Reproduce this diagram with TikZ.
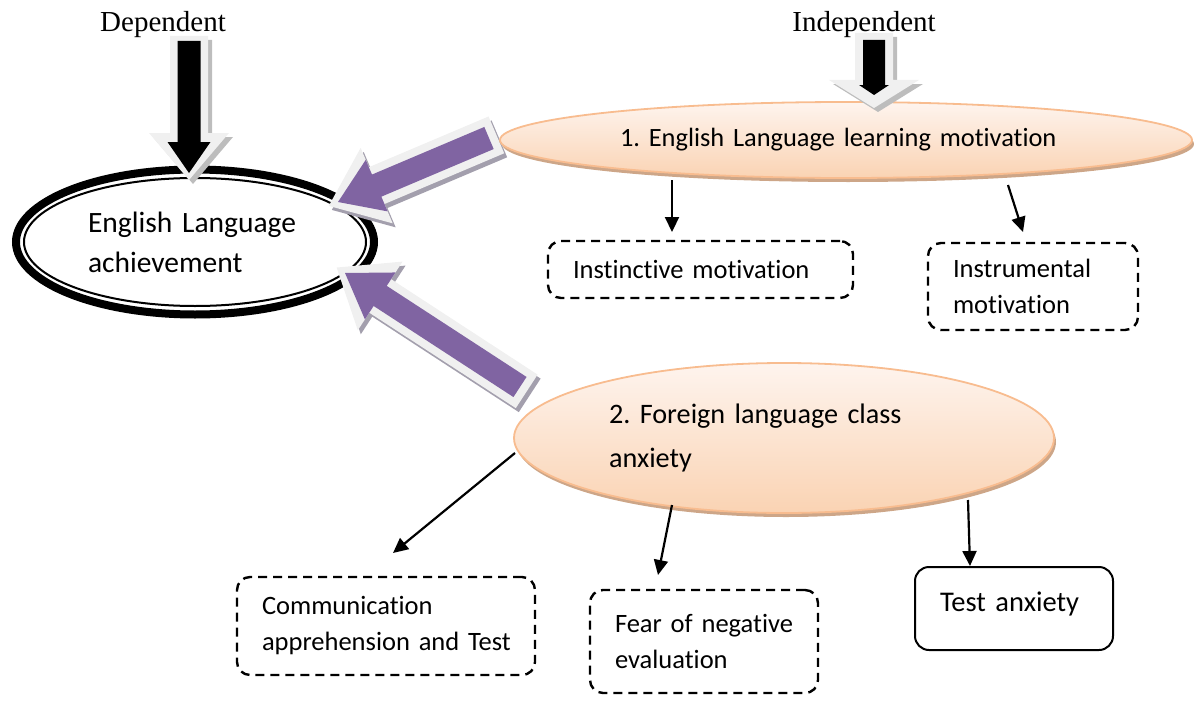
\documentclass[tikz,border=0pt]{standalone}
\usepackage{fontspec}
\setmainfont{Carlito}[Ligatures=NoCommon]
\newfontfamily\tnr{Liberation Serif}
\usetikzlibrary{calc,shapes.geometric,arrows.meta,shadows}
\frenchspacing
\definecolor{purp}{HTML}{8064A2}
\definecolor{purpshadow}{HTML}{A39FAD}
\definecolor{lightb}{HTML}{F0F0F0}
\definecolor{blkshadow}{HTML}{BDBDBD}
\definecolor{orbord}{HTML}{F8BC8F}
\definecolor{ortop}{HTML}{FEF4EE}
\definecolor{orbot}{HTML}{FAD3B3}
\definecolor{orshadow}{HTML}{CDA688}
\newcommand\achfont{\fontsize{29.5pt}{40pt}\selectfont}
\newcommand\eonefont{\fontsize{26.4pt}{32pt}\selectfont}
\newcommand\etwofont{\fontsize{28.2pt}{44pt}\selectfont}
\newcommand\bxfont{\fontsize{26.5pt}{36pt}\selectfont}
\newcommand\tafont{\fontsize{28.5pt}{34pt}\selectfont}
\newcommand\lblfont{\tnr\fontsize{29pt}{34pt}\selectfont}
% #1 tip, #2 tail centre, #3 half shaft, #4 half head, #5 head length, #6 options
\newcommand\blockarrow[6]{%
  \path[#6] (#1) -- ($(#1)!#5!(#2)!#4!90:(#2)$) -- ($(#1)!#5!(#2)!#3!90:(#2)$)
    -- ($(#2)!#3!-90:(#1)$) -- ($(#2)!#3!90:(#1)$)
    -- ($(#1)!#5!(#2)!#3!-90:(#2)$) -- ($(#1)!#5!(#2)!#4!-90:(#2)$) -- cycle;}
\begin{document}
\begin{tikzpicture}[x=1pt,y=-1pt,
  lbl/.style={font=\lblfont, anchor=base, inner sep=0pt},
  oval/.style={ellipse, draw=orbord, line width=1.8pt, top color=ortop, bottom color=orbot,
    inner sep=0pt, align=left,
    general shadow={fill=orshadow, shadow xshift=2pt, shadow yshift=-4pt}},
  dbox/.style={draw, line width=2.4pt, dash pattern=on 9pt off 6pt, rounded corners=13pt,
    inner xsep=25pt, inner ysep=0pt, align=left, font=\bxfont},
  sbox/.style={draw, line width=2pt, rounded corners=14pt,
    inner xsep=25pt, inner ysep=0pt, align=left, font=\tafont},
  conn/.style={line width=2.2pt, -{Triangle[length=15pt,width=14pt]}}]
\useasboundingbox (0,0) rectangle (1194,701);

% header labels
\node[lbl] (dep) at (163,32) {Dependent};
\node[lbl] (ind) at (864,32) {Independent};

% dependent variable ellipse
\node[ellipse, draw, line width=8pt, minimum width=358pt, minimum height=145pt,
  inner sep=0pt, text width=214pt, align=left, font=\achfont] (ach) at (195,242)
  {English Language\\achievement};
\draw[line width=2pt] (ach.center) ellipse [x radius=171, y radius=64];

% purple block arrows
\coordinate (p1t) at (338,202); \coordinate (p1e) at (489,138);
\coordinate (p1to) at ($(p1t)!-10pt!(p1e)$); \coordinate (p1eo) at ($(p1e)!-8pt!(p1t)$);
\begin{scope}[transform canvas={shift={(3pt,-4pt)}}]
  \blockarrow{p1to}{p1eo}{20pt}{41pt}{52pt}{fill=purpshadow}
\end{scope}
\blockarrow{p1to}{p1eo}{20pt}{41pt}{52pt}{fill=lightb}
\blockarrow{p1t}{p1e}{12pt}{28pt}{42pt}{fill=purp}

\coordinate (p2t) at (345,273); \coordinate (p2e) at (520,387);
\coordinate (p2to) at ($(p2t)!-10pt!(p2e)$); \coordinate (p2eo) at ($(p2e)!-8pt!(p2t)$);
\begin{scope}[transform canvas={shift={(3pt,-4pt)}}]
  \blockarrow{p2to}{p2eo}{20pt}{41pt}{52pt}{fill=purpshadow}
\end{scope}
\blockarrow{p2to}{p2eo}{20pt}{41pt}{52pt}{fill=lightb}
\blockarrow{p2t}{p2e}{12pt}{28pt}{42pt}{fill=purp}

% independent variable ellipses
\node[oval, minimum width=692pt, minimum height=76pt, text width=452pt, font=\eonefont]
  (e1) at (846,140) {1. English Language learning motivation};
\node[oval, minimum width=540pt, minimum height=150pt, text width=350pt, font=\etwofont]
  (e2) at (784,438) {2. Foreign language class\\anxiety};

% black block arrows
\coordinate (dt) at (189,173); \coordinate (de) at (189,41);
\coordinate (dto) at ($(dt)!-7pt!(de)$); \coordinate (deo) at ($(de)!-5pt!(dt)$);
\begin{scope}[transform canvas={shift={(4pt,-4pt)}}]
  \blockarrow{dto}{deo}{19pt}{40pt}{47pt}{fill=blkshadow}
\end{scope}
\blockarrow{dto}{deo}{19pt}{40pt}{47pt}{fill=lightb}
\blockarrow{dt}{de}{11.5pt}{21.5pt}{31pt}{fill=black}

\coordinate (it) at (874,95); \coordinate (ie) at (874,40);
\coordinate (ito) at ($(it)!-13pt!(ie)$); \coordinate (ieo) at ($(ie)!-7pt!(it)$);
\begin{scope}[transform canvas={shift={(4pt,-4pt)}}]
  \blockarrow{ito}{ieo}{19pt}{45pt}{28pt}{fill=blkshadow}
\end{scope}
\blockarrow{ito}{ieo}{19pt}{45pt}{28pt}{fill=lightb}
\blockarrow{it}{ie}{11pt}{15pt}{10pt}{fill=black}

% sub-factor boxes
\node[dbox, minimum width=305pt, minimum height=57pt, text width=255pt]
  (b1) at (700.5,269.5) {\mbox{Instinctive motivation}};
\node[dbox, minimum width=210pt, minimum height=87pt, text width=160pt]
  (b2) at (1033,286.5) {\mbox{Instrumental}\\\mbox{motivation}};
\node[dbox, minimum width=298pt, minimum height=98pt, text width=248pt]
  (b3) at (386,626) {\mbox{Communication}\\\mbox{apprehension and Test}};
\node[dbox, minimum width=228pt, minimum height=103pt, text width=178pt]
  (b4) at (704,641.5) {\mbox{Fear of negative}\\\mbox{evaluation}};
\node[sbox, minimum width=198pt, minimum height=83pt, text width=148pt, text depth=14pt]
  (b5) at (1014,608.5) {\mbox{Test anxiety}};

% connectors
\coordinate (c1s) at (672,180); \coordinate (c1e) at (672,232);
\coordinate (c2s) at (1008,185); \coordinate (c2e) at (1023,232);
\coordinate (c3s) at (515,453); \coordinate (c3e) at (393,553);
\coordinate (c4s) at (672,505); \coordinate (c4e) at (658,575);
\coordinate (c5s) at (968,500); \coordinate (c5e) at (970,566);
\draw[conn] (c1s) -- (c1e);
\draw[conn] (c2s) -- (c2e);
\draw[conn] (c3s) -- (c3e);
\draw[conn] (c4s) -- (c4e);
\draw[conn] (c5s) -- (c5e);
\end{tikzpicture}
\end{document}
